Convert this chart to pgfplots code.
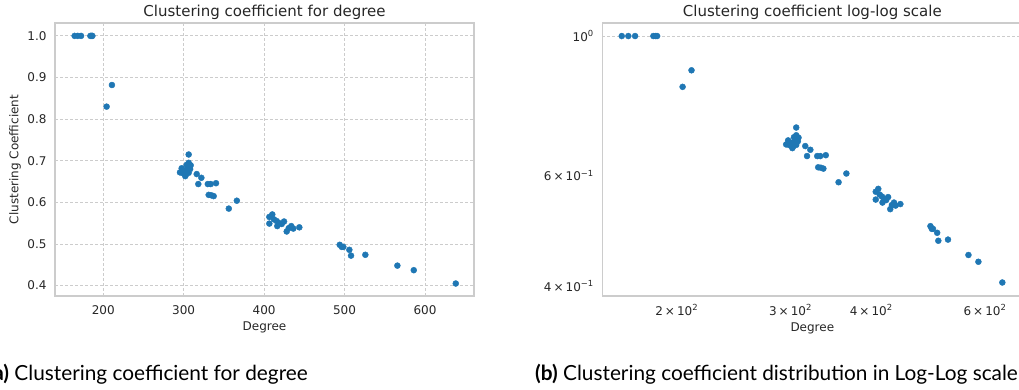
\documentclass[border=0pt]{standalone}
\usepackage{fontspec}
\setmainfont{DejaVu Sans}
\newfontfamily\capfont{Lato}
\usepackage{pgfplots}
\usepackage{pgfplotstable}
\pgfplotsset{compat=1.18}

\definecolor{dotblue}{HTML}{1F77B4}
\definecolor{gridgray}{HTML}{CCCCCC}
\definecolor{framegray}{HTML}{CCCCCC}
\definecolor{labgray}{HTML}{262626}

% degree vs. clustering coefficient of each node
\pgfplotstableread{
deg cc
164.4 1.0
168.3 1.0
172.4 1.0
184.0 1.0
185.5 1.0
186.5 1.0
204.2 0.830
210.8 0.882
295.4 0.672
297.5 0.682
299.0 0.670
300.4 0.676
302.0 0.663
302.5 0.666
303.7 0.690
304.0 0.679
306.2 0.695
306.2 0.715
306.2 0.671
308.0 0.680
308.7 0.689
316.2 0.668
318.2 0.644
322.0 0.659
330.0 0.644
333.6 0.644
340.2 0.646
331.1 0.618
334.3 0.617
337.3 0.615
356.1 0.585
366.1 0.604
406.5 0.565
410.2 0.571
406.5 0.549
412.3 0.559
415.7 0.555
416.4 0.543
418.9 0.550
424.8 0.554
421.9 0.548
428.1 0.530
430.6 0.538
433.8 0.543
436.3 0.537
443.8 0.540
494.0 0.498
496.5 0.493
498.5 0.493
506.0 0.486
508.1 0.472
525.9 0.474
565.7 0.448
586.1 0.437
638.3 0.405
}\ccdata

\pgfplotsset{
  sbstyle/.style={
    scale only axis,
    width=420bp, height=273bp,
    axis line style={framegray, line width=1.1bp},
    tick style={draw=none},
    major tick length=0pt, minor tick length=0pt,
    grid style={gridgray, line width=0.9bp, dash pattern=on 3bp off 2bp},
    tick label style={font=\fontsize{12bp}{14bp}\selectfont, text=labgray},
    label style={font=\fontsize{12bp}{14bp}\selectfont, text=labgray},
    title style={font=\fontsize{15bp}{17bp}\selectfont, text=labgray,
                 at={(0.5,1)}, anchor=base, yshift=1bp},
    xlabel style={at={(0.5,0)}, anchor=base, yshift=-35bp},
    xticklabel style={anchor=base, yshift=-19bp},
    yticklabel style={anchor=east, xshift=-5bp},
    clip=false,
  },
  dots/.style={only marks, mark=*, mark size=3bp,
               mark options={draw=dotblue, fill=dotblue}},
}

\begin{document}
\begin{tikzpicture}
\useasboundingbox (0,0) rectangle (1019bp,390bp);

% linear axes
\begin{axis}[sbstyle,
  at={(55bp,94bp)}, anchor=south west,
  width=419bp,
  title={Clustering coefficient for degree},
  xlabel={Degree}, ylabel={Clustering Coefficient},
  ylabel style={at={(-0.0955,0.5)}, anchor=center},
  xmin=140, xmax=661, ymin=0.375, ymax=1.031,
  xtick={200,300,400,500,600},
  xticklabels={200,300,400,500,600},
  ytick={0.4,0.5,0.6,0.7,0.8,0.9,1.0},
  yticklabels={0.4,0.5,0.6,0.7,0.8,0.9,1.0},
  xmajorgrids, ymajorgrids,
]
\addplot[dots] table[x=deg, y=cc] {\ccdata};
\end{axis}

% log-log axes (right part runs past the page edge)
\begin{axis}[sbstyle,
  at={(602.3bp,94bp)}, anchor=south west,
  width=430bp,
  xmode=log, ymode=log,
  title={Clustering coefficient log-log scale},
  title style={at={(0.4884,1)}},
  xlabel={Degree},
  xlabel style={at={(0.4884,0)}},
  xmin=153.4, xmax=710.4, ymin=0.3855, ymax=1.049,
  xtick={200,300,400,600},
  xticklabels={2\,×\,10\textsuperscript{2},3\,×\,10\textsuperscript{2},4\,×\,10\textsuperscript{2},6\,×\,10\textsuperscript{2}},
  ytick={1}, yticklabels={10\textsuperscript{0}},
  extra y ticks={0.4,0.6},
  extra y tick labels={4\,×\,10\textsuperscript{−1},6\,×\,10\textsuperscript{−1}},
  extra y tick style={grid=none},
  ymajorgrids, xmajorgrids=false,
  minor xtick={}, minor ytick={},
]
\addplot[dots] table[x=deg, y=cc] {\ccdata};
\end{axis}

% sub-figure captions
\node[anchor=base east, inner sep=0pt, font=\capfont\fontsize{20.8bp}{23bp}\selectfont]
  at (308bp,10bp) {\textbf{(a)} Clustering coefficient for degree};
\node[anchor=base west, inner sep=0pt, font=\capfont\fontsize{20.8bp}{23bp}\selectfont]
  at (535bp,10bp) {\textbf{(b)} Clustering coefficient distribution in Log-Log scale};
\end{tikzpicture}
\end{document}
